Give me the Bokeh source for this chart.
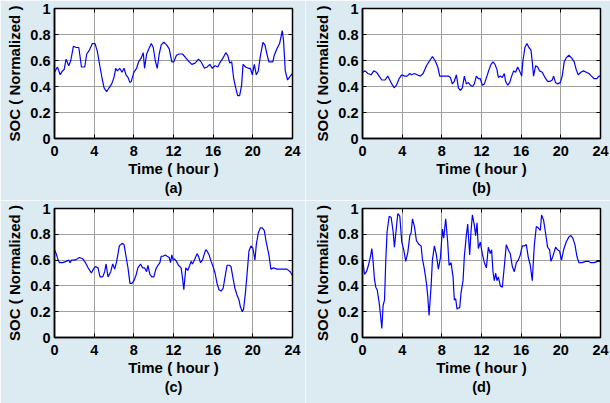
from bokeh.plotting import figure
from bokeh.models import Range1d, FixedTicker, Title, LinearAxis
from bokeh.layouts import column, row
from bokeh.embed import file_html
from bokeh.resources import INLINE

# ---------------- data ----------------
t_a = [0.00, 0.30, 0.57, 0.80, 0.97, 1.17, 1.44, 1.64, 1.91, 2.18, 2.45, 2.72, 3.05, 3.25, 3.52, 3.82,
       4.09, 4.32, 4.59, 4.83, 5.00, 5.26, 5.50, 5.77, 6.00, 6.17, 6.34, 6.57, 6.81, 7.01, 7.21, 7.41,
       7.61, 7.74, 8.01, 8.28, 8.48, 8.75, 8.95, 9.08, 9.29, 9.52, 9.76, 9.96, 10.16, 10.36, 10.56,
       10.76, 11.03, 11.30, 11.57, 11.83, 12.03, 12.30, 12.57, 12.91, 13.24, 13.58, 13.85, 14.18,
       14.52, 14.78, 15.12, 15.39, 15.66, 15.92, 16.19, 16.46, 16.73, 17.00, 17.27, 17.47, 17.67,
       17.87, 18.07, 18.27, 18.47, 18.67, 18.87, 19.01, 19.27, 19.54, 19.74, 19.95, 20.15, 20.35,
       20.55, 20.75, 21.02, 21.22, 21.42, 21.62, 21.82, 22.02, 22.16, 22.43, 22.70, 22.97, 23.10,
       23.27, 23.50, 23.77, 24.00]
soc_a = [0.51, 0.55, 0.49, 0.52, 0.53, 0.61, 0.56, 0.60, 0.71, 0.70, 0.70, 0.55, 0.55, 0.65, 0.68, 0.73,
         0.73, 0.67, 0.55, 0.45, 0.39, 0.36, 0.39, 0.42, 0.47, 0.54, 0.52, 0.54, 0.51, 0.54, 0.49, 0.47,
         0.43, 0.44, 0.51, 0.54, 0.59, 0.62, 0.66, 0.54, 0.65, 0.69, 0.73, 0.70, 0.60, 0.54, 0.65,
         0.72, 0.74, 0.72, 0.69, 0.59, 0.59, 0.64, 0.65, 0.65, 0.62, 0.59, 0.57, 0.58,
         0.61, 0.59, 0.54, 0.55, 0.57, 0.54, 0.56, 0.55, 0.59, 0.62, 0.66, 0.64, 0.58,
         0.59, 0.46, 0.39, 0.33, 0.33, 0.41, 0.57, 0.55, 0.54, 0.54, 0.49, 0.57, 0.49,
         0.52, 0.63, 0.74, 0.72, 0.65, 0.59, 0.59, 0.59, 0.64, 0.69, 0.73, 0.83, 0.75,
         0.52, 0.45, 0.48, 0.50]

t_b = [0.00, 0.27, 0.54, 0.87, 1.14, 1.41, 1.68, 1.95, 2.28, 2.55, 2.75, 2.95, 3.19, 3.42, 3.69, 3.96,
       4.23, 4.50, 4.77, 4.97, 5.24, 5.51, 5.84, 6.11, 6.45, 6.78, 7.05, 7.32, 7.59, 7.79, 8.06, 8.39,
       8.66, 8.86, 9.06, 9.26, 9.47, 9.67, 9.87, 10.07, 10.27, 10.47, 10.67, 10.88, 11.08, 11.28,
       11.48, 11.68, 11.88, 12.08, 12.29, 12.55, 12.76, 12.96, 13.16, 13.36, 13.56, 13.70, 13.90,
       14.10, 14.30, 14.43, 14.64, 14.84, 15.04, 15.24, 15.44, 15.64, 15.84, 16.05, 16.18, 16.38,
       16.58, 16.78, 16.99, 17.12, 17.25, 17.46, 17.66, 17.86, 18.13, 18.40, 18.66, 18.93, 19.13,
       19.27, 19.47, 19.67, 19.94, 20.14, 20.34, 20.54, 20.81, 21.08, 21.35, 21.55, 21.75, 22.02,
       22.29, 22.56, 22.83, 23.09, 23.36, 23.63, 23.83, 24.00]
soc_b = [0.51, 0.52, 0.50, 0.49, 0.52, 0.51, 0.48, 0.45, 0.45, 0.48, 0.45, 0.42, 0.39, 0.41, 0.46, 0.49,
         0.48, 0.48, 0.50, 0.49, 0.50, 0.49, 0.48, 0.50, 0.56, 0.60, 0.63, 0.60, 0.55, 0.48, 0.48, 0.48,
         0.48, 0.47, 0.42, 0.44, 0.49, 0.39, 0.37, 0.39, 0.48, 0.42, 0.43, 0.41, 0.40, 0.42,
         0.48, 0.46, 0.46, 0.41, 0.42, 0.48, 0.53, 0.57, 0.59, 0.57, 0.53, 0.47, 0.48,
         0.47, 0.50, 0.44, 0.41, 0.43, 0.48, 0.52, 0.51, 0.55, 0.52, 0.48, 0.60, 0.70,
         0.73, 0.70, 0.68, 0.59, 0.48, 0.56, 0.55, 0.52, 0.51, 0.47, 0.44, 0.44, 0.45,
         0.48, 0.43, 0.42, 0.43, 0.48, 0.59, 0.62, 0.64, 0.62, 0.59, 0.53, 0.49, 0.51,
         0.52, 0.51, 0.50, 0.48, 0.46, 0.46, 0.48, 0.48]

t_c = [0.00, 0.17, 0.37, 0.50, 0.84, 1.17, 1.44, 1.58, 1.71, 2.04, 2.31, 2.51, 2.85, 3.12, 3.39, 3.72,
       3.92, 4.12, 4.39, 4.59, 4.86, 5.06, 5.20, 5.40, 5.67, 5.87, 6.07, 6.27, 6.54, 6.81, 7.01, 7.21,
       7.41, 7.61, 7.81, 8.01, 8.21, 8.41, 8.68, 8.88, 9.08, 9.29, 9.42, 9.62, 9.82, 10.02, 10.22,
       10.43, 10.63, 10.76, 10.96, 11.16, 11.36, 11.57, 11.70, 11.83, 11.97, 12.10, 12.30, 12.50,
       12.77, 12.91, 13.04, 13.24, 13.44, 13.64, 13.78, 13.91, 14.11, 14.38, 14.52, 14.72, 14.92,
       15.12, 15.25, 15.39, 15.59, 15.79, 15.99, 16.19, 16.39, 16.59, 16.80, 17.00, 17.20, 17.40,
       17.60, 17.80, 18.00, 18.20, 18.40, 18.61, 18.74, 18.94, 19.07, 19.27, 19.47, 19.61, 19.81,
       20.01, 20.21, 20.35, 20.55, 20.75, 20.95, 21.15, 21.35, 21.62, 21.82, 22.09, 22.43, 22.76,
       23.10, 23.43, 23.77, 24.00]
soc_c = [0.68, 0.65, 0.60, 0.58, 0.58, 0.59, 0.60, 0.58, 0.60, 0.60, 0.61, 0.62, 0.61, 0.58, 0.54, 0.50,
         0.53, 0.55, 0.54, 0.47, 0.47, 0.51, 0.57, 0.47, 0.51, 0.57, 0.53, 0.59, 0.71, 0.73, 0.72, 0.63,
         0.54, 0.42, 0.42, 0.44, 0.48, 0.54, 0.57, 0.54, 0.54, 0.51, 0.56, 0.49, 0.47, 0.47, 0.53,
         0.56, 0.58, 0.63, 0.63, 0.64, 0.63, 0.62, 0.58, 0.64, 0.60, 0.61, 0.59, 0.56,
         0.54, 0.46, 0.37, 0.54, 0.52, 0.56, 0.59, 0.57, 0.60, 0.65, 0.63, 0.58, 0.60,
         0.65, 0.68, 0.67, 0.64, 0.59, 0.55, 0.50, 0.42, 0.37, 0.36, 0.38, 0.47, 0.56,
         0.56, 0.55, 0.46, 0.38, 0.33, 0.29, 0.24, 0.20, 0.22, 0.36, 0.54, 0.67, 0.71,
         0.69, 0.60, 0.72, 0.81, 0.85, 0.85, 0.83, 0.74, 0.64, 0.53, 0.54, 0.53, 0.53,
         0.53, 0.53, 0.51, 0.48]

t_d = [0.00, 0.20, 0.40, 0.60, 0.81, 0.94, 1.07, 1.21, 1.34, 1.48, 1.68, 1.81, 1.95, 2.08, 2.22, 2.35,
       2.48, 2.69, 2.89, 3.09, 3.22, 3.36, 3.56, 3.76, 3.96, 4.16, 4.36, 4.57, 4.77, 4.90, 5.04, 5.24,
       5.44, 5.71, 5.91, 6.04, 6.24, 6.45, 6.58, 6.71, 6.92, 7.05, 7.25, 7.45, 7.65, 7.86, 8.06, 8.19,
       8.39, 8.59, 8.73, 8.93, 9.13, 9.26, 9.40, 9.53, 9.67, 9.80, 9.94, 10.14, 10.27, 10.47, 10.61,
       10.81, 10.94, 11.08, 11.28, 11.41, 11.55, 11.68, 11.88, 12.08, 12.29, 12.49, 12.69, 12.89,
       13.02, 13.16, 13.29, 13.43, 13.56, 13.70, 13.90, 14.10, 14.30, 14.50, 14.70, 14.90, 15.11,
       15.31, 15.51, 15.71, 15.91, 16.11, 16.31, 16.52, 16.72, 16.92, 17.12, 17.32, 17.53, 17.73,
       17.93, 18.06, 18.26, 18.46, 18.66, 18.87, 19.00, 19.20, 19.47, 19.67, 19.87, 20.07, 20.28,
       20.54, 20.81, 21.01, 21.21, 21.42, 21.62, 21.82, 22.15, 22.49, 22.83, 23.03, 23.36, 23.70, 24.00]
soc_d = [0.62, 0.49, 0.51, 0.56, 0.63, 0.69, 0.59, 0.45, 0.39, 0.37, 0.27, 0.18, 0.07, 0.25, 0.29, 0.60,
         0.82, 0.94, 0.93, 0.82, 0.70, 0.81, 0.96, 0.94, 0.74, 0.68, 0.59, 0.66, 0.79, 0.81, 0.92, 0.86,
         0.75, 0.72, 0.71, 0.61, 0.53, 0.42, 0.32, 0.17, 0.40, 0.60, 0.71, 0.64, 0.53, 0.62, 0.84, 0.77,
         0.92, 0.74, 0.56, 0.58, 0.47, 0.29, 0.30, 0.22, 0.23, 0.23, 0.35, 0.44, 0.63, 0.79, 0.88,
         0.64, 0.82, 0.95, 0.87, 0.79, 0.89, 0.69, 0.74, 0.65, 0.58, 0.54, 0.70, 0.65,
         0.68, 0.51, 0.44, 0.50, 0.44, 0.47, 0.40, 0.39, 0.55, 0.72, 0.68, 0.65, 0.55,
         0.51, 0.58, 0.60, 0.64, 0.71, 0.71, 0.72, 0.62, 0.56, 0.44, 0.71, 0.86, 0.85,
         0.83, 0.95, 0.91, 0.81, 0.70, 0.68, 0.59, 0.63, 0.70, 0.68, 0.67, 0.60, 0.68,
         0.74, 0.78, 0.79, 0.77, 0.72, 0.63, 0.58, 0.58, 0.59, 0.59, 0.58, 0.58, 0.59, 0.59]

x_ticks = [0, 4, 8, 12, 16, 20, 24]
y_ticks = [0, 0.2, 0.4, 0.6, 0.8, 1]
y_tick_labels = {0: "0", 0.2: "0.2", 0.4: "0.4", 0.6: "0.6", 0.8: "0.8", 1: "1"}
x_label = "Time ( hour )"
y_label = "SOC ( Normalized )"
panels = ["(a)", "(b)", "(c)", "(d)"]

BG = "#dcebf2"
FONT = "Liberation Sans"


def make_fig(t, v, tag, w, h, left, right, top, bottom):
    p = figure(width=w, height=h, output_backend="svg", toolbar_location=None,
               x_range=Range1d(0, 24), y_range=Range1d(0, 1),
               min_border_left=left, min_border_right=right,
               min_border_top=top, min_border_bottom=bottom)
    p.background_fill_color = "white"
    p.border_fill_color = BG
    p.outline_line_color = "black"
    p.outline_line_width = 1.5
    p.line(t, v, line_color="#0000ff", line_width=1.2)

    for ax in (p.xaxis[0], p.yaxis[0]):
        ax.major_tick_in = 4
        ax.major_tick_out = 0
        ax.minor_tick_line_color = None
        ax.axis_line_color = "black"
        ax.axis_line_width = 1.5
        ax.major_tick_line_color = "black"
        ax.major_label_text_font = FONT
        ax.major_label_text_font_style = "bold"
        ax.major_label_text_font_size = "14.5px"
        ax.major_label_text_color = "black"
        ax.axis_label_text_font = FONT
        ax.axis_label_text_font_style = "bold"
        ax.axis_label_text_font_size = "15px"
        ax.axis_label_text_color = "black"
        ax.major_label_standoff = 4
        ax.axis_label_standoff = 4
    p.xaxis[0].ticker = FixedTicker(ticks=x_ticks)
    p.yaxis[0].ticker = FixedTicker(ticks=y_ticks)
    p.yaxis[0].major_label_overrides = y_tick_labels
    p.xaxis[0].axis_label = x_label
    p.yaxis[0].axis_label = y_label
    p.xaxis[0].major_label_standoff = 7
    p.xaxis[0].axis_label_standoff = 1

    # box ticks on right and top (labels not drawn)
    for loc in ("right", "above"):
        ax = LinearAxis(ticker=FixedTicker(ticks=y_ticks if loc == "right" else x_ticks),
                        major_label_text_font_size="1px", major_label_text_color=None,
                        major_tick_in=4, major_tick_out=0,
                        minor_tick_line_color=None, axis_line_color="black",
                        major_label_standoff=0)
        p.add_layout(ax, loc)

    p.grid.grid_line_color = "#a0a0a0"
    p.grid.grid_line_width = 1
    p.xgrid.ticker = FixedTicker(ticks=x_ticks)
    p.ygrid.ticker = FixedTicker(ticks=y_ticks)

    ttl = Title(text=tag, align="center", text_font=FONT, text_font_style="bold",
                text_font_size="14.5px", text_color="black", standoff=-3, offset=0)
    p.add_layout(ttl, "below")
    return p


pa = make_fig(t_a, soc_a, panels[0], 305, 200, 54, 13, 8, 62)
pb = make_fig(t_b, soc_b, panels[1], 305, 200, 57, 10, 8, 62)
pc = make_fig(t_c, soc_c, panels[2], 305, 203, 54, 13, 7, 66)
pd = make_fig(t_d, soc_d, panels[3], 305, 203, 57, 10, 8, 65)

layout = column(row(pa, pb, spacing=0), row(pc, pd, spacing=0), spacing=0)

open("out.html", "w").write(file_html(layout, INLINE))
